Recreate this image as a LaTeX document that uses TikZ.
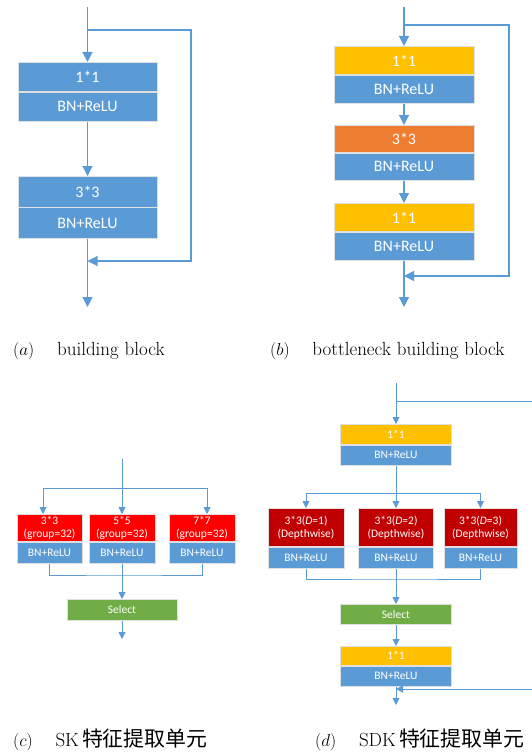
\documentclass[tikz,border=0pt]{standalone}
\usepackage{fontspec}
\newfontfamily\boxfont{Carlito}
\newfontfamily\cjk{Noto Sans CJK SC}[Scale=1.1]
\usetikzlibrary{arrows.meta}

\definecolor{lineblue}{HTML}{5B9BD5}
\definecolor{boxblue}{HTML}{5B9BD5}
\definecolor{convyellow}{HTML}{FFC000}
\definecolor{convorange}{HTML}{ED7D31}
\definecolor{convred}{HTML}{FF0000}
\definecolor{convdarkred}{HTML}{C00000}
\definecolor{selgreen}{HTML}{70AD47}

\tikzstyle{netbox} = [draw=gray!25, line width=0.8pt, rectangle, inner sep=0pt, anchor=north, text=white, align=center]
\tikzstyle{bigbox} = [netbox, font=\boxfont\fontsize{16}{18}\selectfont]
\tikzstyle{smallbox} = [netbox, font=\boxfont\fontsize{11.5}{13}\selectfont]
\tikzstyle{wire} = [draw=lineblue, line width=1.1pt]
\tikzstyle{link} = [wire, -{Triangle[width=10pt,length=10pt]}]
\tikzstyle{swire} = [draw=lineblue, line width=0.9pt]
\tikzstyle{slink} = [swire, -{Triangle[width=7pt,length=7pt]}]
\tikzstyle{caption} = [anchor=west, inner sep=0pt, font=\fontsize{19}{22}\selectfont]

\begin{document}
\begin{tikzpicture}[x=1pt,y=-1pt]
	\useasboundingbox (0,0) rectangle (532,752);

	% (a) building block
	\node[bigbox, fill=boxblue, minimum width=139pt, minimum height=29pt] (a1) at (87.5,62) {1*1};
	\node[bigbox, fill=boxblue, minimum width=139pt, minimum height=29pt] (a1n) at (a1.south) {BN+ReLU};
	\node[bigbox, fill=boxblue, minimum width=139pt, minimum height=30.5pt] (a2) at (87.5,176) {3*3};
	\node[bigbox, fill=boxblue, minimum width=139pt, minimum height=30.5pt] (a2n) at (a2.south) {BN+ReLU};
	\coordinate (ain) at (87.5,7);
	\coordinate (asplit) at (87.5,30);
	\coordinate (askip) at (191,30);
	\coordinate (amerge) at (87.5,261);
	\coordinate (aout) at (87.5,307);
	\draw[link] (ain) -- (a1.north);
	\draw[link] (a1n.south) -- (a2.north);
	\draw[link] (a2n.south) -- (aout);
	\draw[link] (asplit) -- (askip) |- (amerge);
	\node[caption] (acap) at (13,351) {$(a)$\hspace{1.2em}building block};

	% (b) bottleneck building block
	\node[bigbox, fill=convyellow, minimum width=140pt, minimum height=28pt] (b1) at (404,46) {1*1};
	\node[bigbox, fill=boxblue, minimum width=140pt, minimum height=28pt] (b1n) at (b1.south) {BN+ReLU};
	\node[bigbox, fill=convorange, minimum width=140pt, minimum height=27pt] (b2) at (404,125) {3*3};
	\node[bigbox, fill=boxblue, minimum width=140pt, minimum height=27pt] (b2n) at (b2.south) {BN+ReLU};
	\node[bigbox, fill=convyellow, minimum width=140pt, minimum height=28pt] (b3) at (404,203) {1*1};
	\node[bigbox, fill=boxblue, minimum width=140pt, minimum height=28pt] (b3n) at (b3.south) {BN+ReLU};
	\coordinate (bin) at (404,7);
	\coordinate (bsplit) at (404,25);
	\coordinate (bskip) at (509,25);
	\coordinate (bmerge) at (404,276);
	\coordinate (bout) at (404,307);
	\draw[link] (bin) -- (b1.north);
	\draw[link] (b1n.south) -- (b2.north);
	\draw[link] (b2n.south) -- (b3.north);
	\draw[link] (b3n.south) -- (bout);
	\draw[link] (bsplit) -- (bskip) |- (bmerge);
	\node[caption] (bcap) at (270,351) {$(b)$\hspace{1.2em}bottleneck building block};

	% (c) SK unit
	\node[smallbox, fill=convred, minimum width=65pt, minimum height=27pt] (c1) at (49.5,514) {3*3\\(group=32)};
	\node[smallbox, fill=boxblue, minimum width=65pt, minimum height=21pt] (c1n) at (c1.south) {BN+ReLU};
	\node[smallbox, fill=convred, minimum width=66pt, minimum height=27pt] (c2) at (122,514) {5*5\\(group=32)};
	\node[smallbox, fill=boxblue, minimum width=66pt, minimum height=21pt] (c2n) at (c2.south) {BN+ReLU};
	\node[smallbox, fill=convred, minimum width=66pt, minimum height=27pt] (c3) at (202,514) {7*7\\(group=32)};
	\node[smallbox, fill=boxblue, minimum width=66pt, minimum height=21pt] (c3n) at (c3.south) {BN+ReLU};
	\node[smallbox, fill=selgreen, minimum width=110pt, minimum height=21pt] (csel) at (122,599) {Select};
	\coordinate (cin) at (122,459);
	\coordinate (csplit) at (122,488);
	\coordinate (cmerge) at (122,575);
	\coordinate (cout) at (122,639);
	\draw[slink] (cin) -- (c2.north);
	\draw[slink] (csplit) -| ([xshift=-6.5pt]c1.north);
	\draw[slink] (csplit) -| ([xshift=5pt]c3.north);
	\draw[swire] (c1n.south) |- (cmerge) -| (c3n.south);
	\draw[slink] (c2n.south) -- (csel.north);
	\draw[slink] (csel.south) -- (cout);
	\node[caption] (ccap) at (13,740) {$(c)$\hspace{1.2em}SK\,{\cjk 特征提取单元}};

	% (d) SDK unit
	\node[smallbox, fill=convyellow, minimum width=111pt, minimum height=20pt] (d1) at (396,424) {1*1};
	\node[smallbox, fill=boxblue, minimum width=111pt, minimum height=20pt] (d1n) at (d1.south) {BN+ReLU};
	\node[smallbox, fill=convdarkred, minimum width=76pt, minimum height=38pt] (d2) at (306,508) {3*3(\textit{D}=1)\\(Depthwise)};
	\node[smallbox, fill=boxblue, minimum width=76pt, minimum height=21pt] (d2n) at (d2.south) {BN+ReLU};
	\node[smallbox, fill=convdarkred, minimum width=75pt, minimum height=38pt] (d3) at (396,508) {3*3(\textit{D}=2)\\(Depthwise)};
	\node[smallbox, fill=boxblue, minimum width=75pt, minimum height=21pt] (d3n) at (d3.south) {BN+ReLU};
	\node[smallbox, fill=convdarkred, minimum width=73pt, minimum height=38pt] (d4) at (480.5,508) {3*3(\textit{D}=3)\\(Depthwise)};
	\node[smallbox, fill=boxblue, minimum width=73pt, minimum height=21pt] (d4n) at (d4.south) {BN+ReLU};
	\node[smallbox, fill=selgreen, minimum width=111pt, minimum height=20pt] (dsel) at (396,604) {Select};
	\node[smallbox, fill=convyellow, minimum width=111pt, minimum height=19pt] (d5) at (396,646) {1*1};
	\node[smallbox, fill=boxblue, minimum width=111pt, minimum height=20pt] (d5n) at (d5.south) {BN+ReLU};
	\coordinate (din) at (396,383);
	\coordinate (dsplit) at (396,401);
	\coordinate (dskip) at (545,401);
	\coordinate (dbranch) at (396,493);
	\coordinate (dmerge) at (396,579);
	\coordinate (dback) at (396,689);
	\coordinate (dout) at (396,705);
	\draw[slink] (din) -- (d1.north);
	\draw[slink] (d1n.south) -- (d3.north);
	\draw[slink] (dbranch) -| (d2.north);
	\draw[slink] (dbranch) -| (d4.north);
	\draw[swire] (d2n.south) |- (dmerge) -| (d4n.south);
	\draw[slink] (d3n.south) -- (dsel.north);
	\draw[slink] (dsel.south) -- (d5.north);
	\draw[slink] (d5n.south) -- (dout);
	\draw[slink] (dsplit) -- (dskip) |- (dback);
	\node[caption] (dcap) at (315,740) {$(d)$\hspace{1.2em}SDK\,{\cjk 特征提取单元}};
\end{tikzpicture}
\end{document}
